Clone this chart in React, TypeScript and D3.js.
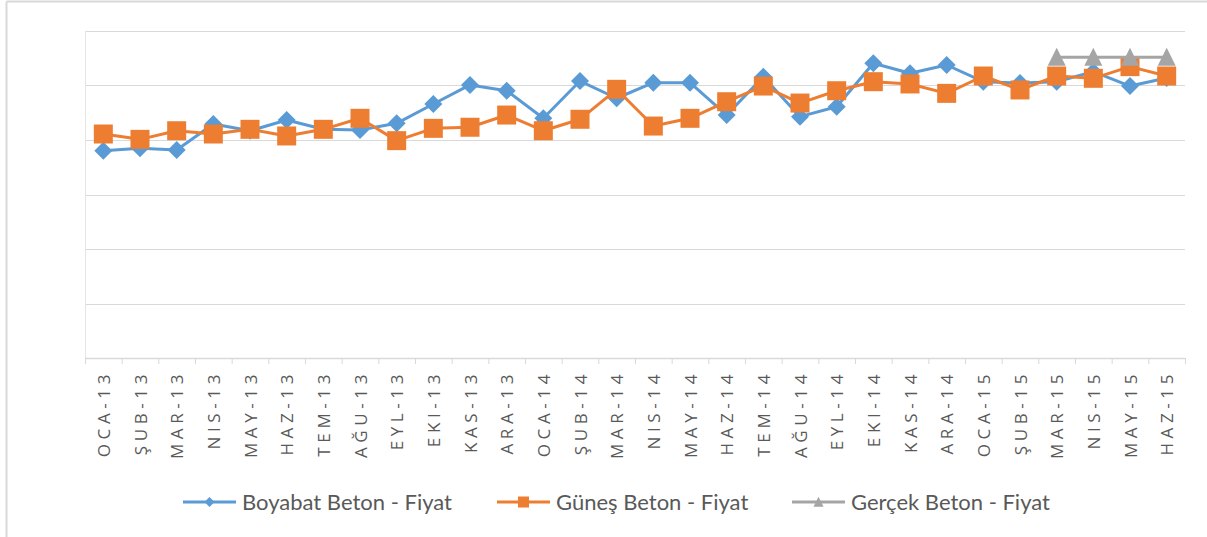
import React, { useEffect, useRef } from 'react';
import * as d3 from 'd3';

const months = [
  'OCA-13', 'ŞUB-13', 'MAR-13', 'NIS-13', 'MAY-13', 'HAZ-13', 'TEM-13', 'AĞU-13', 'EYL-13', 'EKI-13',
  'KAS-13', 'ARA-13', 'OCA-14', 'ŞUB-14', 'MAR-14', 'NIS-14', 'MAY-14', 'HAZ-14', 'TEM-14', 'AĞU-14',
  'EYL-14', 'EKI-14', 'KAS-14', 'ARA-14', 'OCA-15', 'ŞUB-15', 'MAR-15', 'NIS-15', 'MAY-15', 'HAZ-15',
];

const boyabat = [
  190.2, 192.4, 190.8, 214.7, 208.5, 218.3, 209.8, 209.2, 215.3, 233.0,
  250.5, 245.2, 219.9, 254.1, 238.3, 252.6, 252.6, 222.9, 258.1, 221.4,
  230.5, 270.4, 261.2, 268.8, 253.5, 252.3, 253.5, 262.7, 249.5, 256.9,
];

const gunes = [
  205.5, 200.6, 208.5, 205.5, 209.8, 203.7, 209.8, 219.9, 199.4, 210.7,
  211.7, 222.9, 208.5, 219.0, 246.5, 212.8, 219.9, 235.1, 249.5, 233.9,
  245.2, 253.5, 251.4, 242.8, 258.7, 245.9, 258.7, 256.6, 267.3, 258.7,
];

const gercek: (number | null)[] = [
  null, null, null, null, null, null, null, null, null, null,
  null, null, null, null, null, null, null, null, null, null,
  null, null, null, null, null, null, 275.9, 275.9, 275.9, 275.9,
];

const yTicks = [0, 50, 100, 150, 200, 250, 300];

const seriesNames = ['Boyabat Beton - Fiyat', 'Güneş Beton - Fiyat', 'Gerçek Beton - Fiyat'];
const colors = ['#5b9bd5', '#ed7d31', '#a5a5a5'];

const W = 1207;
const H = 537;

// marker path centred on 0,0 ; r = half size
const marker = (s: number, r: number) => {
  if (s === 0) return `M0,${-r}L${r},0L0,${r}L${-r},0Z`;
  if (s === 1) return `M${-r},${-r}H${r}V${r}H${-r}Z`;
  return `M0,${-r * 1.05}L${r},${r * 0.95}L${-r},${r * 0.95}Z`;
};

const App: React.FC = () => {
  const svgRef = useRef<SVGSVGElement>(null);

  useEffect(() => {
    if (!svgRef.current) return;
    const svg = d3.select(svgRef.current);
    svg.selectAll('*').remove();

    const left = 85;
    const right = 1185;
    const top = 31;
    const bottom = 358;

    // outer frame (left + top edges visible)
    svg.append('line').attr('x1', 6.5).attr('x2', 6.5).attr('y1', 1.5).attr('y2', H)
      .attr('stroke', '#d9d9d9').attr('stroke-width', 2);
    svg.append('line').attr('x1', 6.5).attr('x2', W).attr('y1', 1.5).attr('y2', 1.5)
      .attr('stroke', '#d9d9d9').attr('stroke-width', 2);

    const x = d3.scaleBand<string>().domain(months).range([left, right]);
    const y = d3.scaleLinear().domain([0, 300]).range([bottom, top]);
    const cx = (i: number) => (x(months[i]) as number) + x.bandwidth() / 2;

    // gridlines
    svg.append('g')
      .selectAll('line')
      .data(yTicks.filter((t) => t > 0))
      .enter()
      .append('line')
      .attr('x1', left)
      .attr('x2', right)
      .attr('y1', (d) => Math.round(y(d)) + 0.5)
      .attr('y2', (d) => Math.round(y(d)) + 0.5)
      .attr('stroke', '#d9d9d9')
      .attr('stroke-width', 1);

    // left vertical line
    svg.append('line').attr('x1', left + 0.5).attr('x2', left + 0.5).attr('y1', top).attr('y2', bottom)
      .attr('stroke', '#e6e6e6');

    // x axis with ticks between categories
    const ax = svg.append('g');
    ax.append('line').attr('x1', left).attr('x2', right).attr('y1', bottom + 0.5).attr('y2', bottom + 0.5)
      .attr('stroke', '#d9d9d9').attr('stroke-width', 1.5);
    ax.selectAll('line.tk')
      .data(d3.range(months.length + 1))
      .enter()
      .append('line')
      .attr('class', 'tk')
      .attr('x1', (i) => left + i * x.step() + 0.5)
      .attr('x2', (i) => left + i * x.step() + 0.5)
      .attr('y1', bottom)
      .attr('y2', bottom + 6)
      .attr('stroke', '#d9d9d9');

    ax.selectAll('text')
      .data(months)
      .enter()
      .append('text')
      .attr('transform', (_d, i) => `translate(${cx(i) + 6.5},${bottom + 12}) rotate(-90)`)
      .attr('text-anchor', 'end')
      .attr('font-family', 'Open Sans, sans-serif')
      .attr('font-size', 17)
      .attr('letter-spacing', 4.6)
      .attr('fill', '#595959')
      .text((d) => d);

    const allSeries = [boyabat, gunes, gercek];
    const sizes = [9, 9.5, 9];

    allSeries.forEach((data, s) => {
      const line = d3
        .line<number | null>()
        .defined((d) => d !== null)
        .x((_d, i) => cx(i))
        .y((d) => y(d as number));

      svg.append('path')
        .datum(data as (number | null)[])
        .attr('fill', 'none')
        .attr('stroke', colors[s])
        .attr('stroke-width', 3)
        .attr('stroke-linejoin', 'round')
        .attr('d', line);

      svg.append('g')
        .selectAll('path')
        .data(data.map((v, i) => ({ v, i })).filter((d) => d.v !== null))
        .enter()
        .append('path')
        .attr('transform', (d) => `translate(${cx(d.i)},${y(d.v as number)})`)
        .attr('d', marker(s, sizes[s]))
        .attr('fill', colors[s]);
    });

    // legend
    const legendX = [183, 497, 792];
    const lg = svg.append('g');
    seriesNames.forEach((name, s) => {
      const g = lg.append('g').attr('transform', `translate(${legendX[s]},502)`);
      g.append('line').attr('x1', 0).attr('x2', 53).attr('y1', 0).attr('y2', 0)
        .attr('stroke', colors[s]).attr('stroke-width', 3);
      g.append('path')
        .attr('transform', 'translate(26.5,0)')
        .attr('d', marker(s, [5, 5.5, 5][s]))
        .attr('fill', colors[s]);
      g.append('text')
        .attr('x', 59)
        .attr('y', 8)
        .attr('font-family', 'Lato, sans-serif')
        .attr('font-size', 22)
        .attr('fill', '#595959')
        .text(name);
    });
  }, []);

  return <svg ref={svgRef} width={W} height={H} style={{ display: 'block', position: 'absolute', left: 0, top: 0, background: '#fff' }} />;
};

export default App;
